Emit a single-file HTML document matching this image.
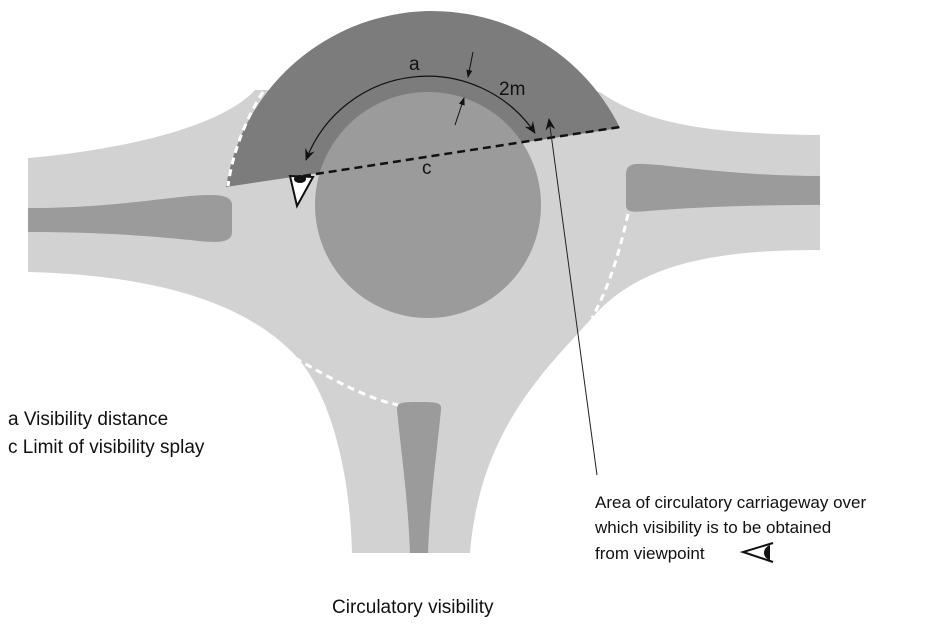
<!DOCTYPE html>
<html><head><style>
body{margin:0;background:#fff;}
svg{display:block;font-family:"Liberation Sans",sans-serif;}
</style></head><body>
<svg width="949" height="635" viewBox="0 0 949 635">
<defs>
<marker id="ah" markerWidth="12" markerHeight="12" refX="11" refY="6" orient="auto-start-reverse" markerUnits="userSpaceOnUse">
<path d="M0,1 L12,6 L0,11 L4,6 Z" fill="#111"/></marker>
<marker id="ahs" markerWidth="8" markerHeight="8" refX="7" refY="4" orient="auto" markerUnits="userSpaceOnUse">
<path d="M0,1 L8,4 L0,7 Z" fill="#111"/></marker>
</defs>
<path fill="#d2d2d2" d="M28,158 C120,150 220,128 255,90 L600,92 C650,128 730,134 820,135 L820,250 C720,250 640,262 592,318 C545,370 480,430 470,553 L352,553 C350,470 330,390 292,352 C240,300 150,275 28,272 Z"/>
<path fill="#7c7c7c" d="M226,187 A209,209 0 0 1 620,128 Z"/>
<circle cx="428" cy="205" r="113" fill="#9b9b9b"/>
<path fill="#9b9b9b" d="M28,208 C100,208 150,200 190,196 C215,194 232,194 232,205 L232,232 C232,244 215,243 190,240 C150,236 100,232 28,232 Z"/>
<path fill="#9b9b9b" d="M626,175 C626,162 635,163 660,165 C720,172 770,176 820,176 L820,205 C770,205 720,206 660,210 C635,212 626,214 626,205 Z"/>
<path fill="#9b9b9b" d="M397,408 C397,402 405,402 420,402 C438,402 442,403 441,410 C436,460 430,500 428,553 L410,553 C408,500 402,460 397,410 Z"/>
<g fill="none" stroke="#fff" stroke-width="3" stroke-dasharray="7,5">
<path d="M263,92 C245,120 232,155 228,186"/>
<path d="M628,214 C620,250 610,285 592,318"/>
<path d="M295,358 C330,378 365,398 398,405"/>
</g>
<path d="M306,160 A130,130 0 0 1 535,133" fill="none" stroke="#111" stroke-width="1.2" marker-start="url(#ah)" marker-end="url(#ah)"/>
<line x1="473" y1="52" x2="468" y2="77" stroke="#111" stroke-width="1" marker-end="url(#ahs)"/>
<line x1="455" y1="125" x2="464" y2="98" stroke="#111" stroke-width="1" marker-end="url(#ahs)"/>
<line x1="303" y1="176" x2="620" y2="127" stroke="#111" stroke-width="2.5" stroke-dasharray="8,5"/>
<path d="M290,176 L313,177 L297,206 Z" fill="#fff" stroke="#111" stroke-width="2"/>
<ellipse cx="300" cy="179" rx="6" ry="4" fill="#111"/>
<line x1="597" y1="475" x2="549" y2="119" stroke="#222" stroke-width="1" marker-end="url(#ah)"/>
<text x="409" y="70" font-size="19" fill="#111">a</text>
<text x="499" y="95" font-size="19" fill="#111">2m</text>
<text x="422" y="174" font-size="19" fill="#111">c</text>
<text x="8" y="425" font-size="19" fill="#111">a Visibility distance</text>
<text x="8" y="453" font-size="19" fill="#111">c Limit of visibility splay</text>
<text x="595" y="508" font-size="17" fill="#111">Area of circulatory carriageway over</text>
<text x="595" y="533" font-size="17" fill="#111">which visibility is to be obtained</text>
<text x="595" y="559" font-size="17" fill="#111">from viewpoint</text>
<path d="M773,543 L743,552 L773,562" fill="none" stroke="#111" stroke-width="2"/>
<path d="M770,545 C762,548 762,558 770,560 Z" fill="#111"/>
<text x="332" y="613" font-size="19" fill="#111">Circulatory visibility</text>
</svg>
</body></html>
